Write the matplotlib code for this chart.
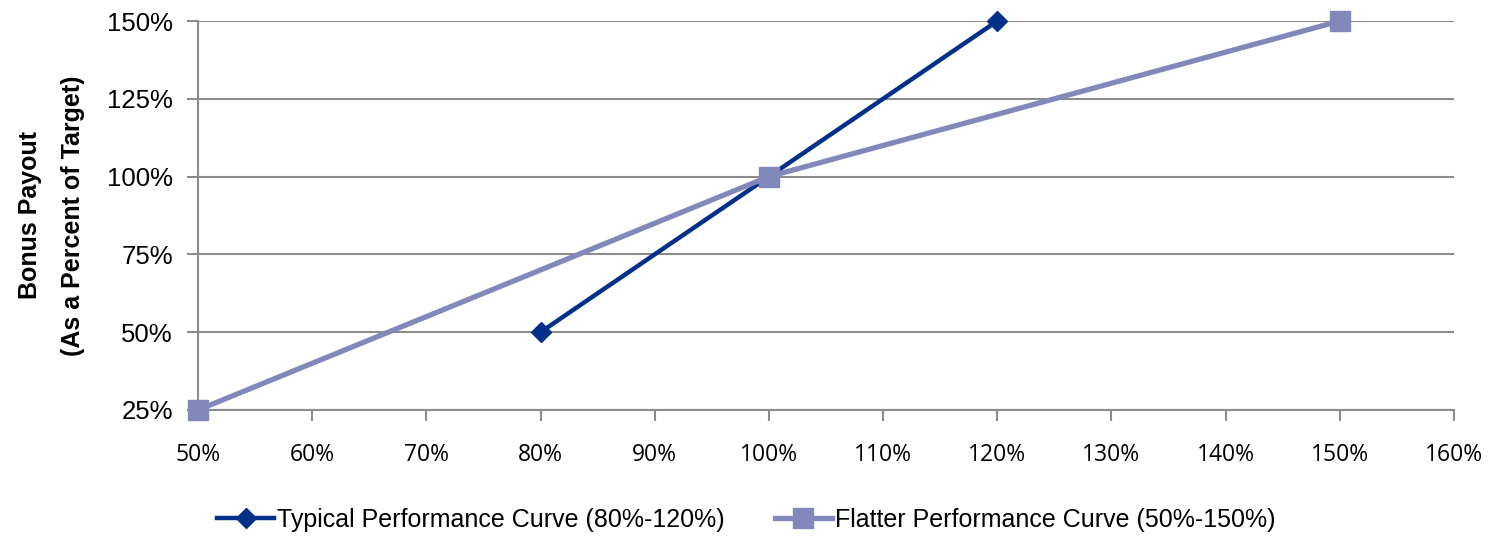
import matplotlib.pyplot as plt
from matplotlib.ticker import FuncFormatter, MultipleLocator

# performance (% of target) vs bonus payout (% of target)
typical_x = [80, 100, 120]
typical_y = [50, 100, 150]
flatter_x = [50, 100, 150]
flatter_y = [25, 100, 150]

labels = ["Typical Performance Curve (80%-120%)", "Flatter Performance Curve (50%-150%)"]
dark = "#00308A"
light = "#8388BB"

fig = plt.figure(figsize=(14.92, 5.36), dpi=100)
ax = fig.add_axes([0.1327, 0.2351, 0.8418, 0.7257])

ax.plot(typical_x, typical_y, color=dark, lw=3.2, marker="D", ms=10,
        label=labels[0], zorder=3, clip_on=False)
ax.plot(flatter_x, flatter_y, color=light, lw=3.8, marker="s", ms=14,
        label=labels[1], zorder=4, clip_on=False)

ax.set_xlim(50, 160)
ax.set_ylim(25, 150)
ax.xaxis.set_major_locator(MultipleLocator(10))
ax.yaxis.set_major_locator(MultipleLocator(25))
pct = FuncFormatter(lambda v, p: f"{v:.0f}%")
ax.xaxis.set_major_formatter(pct)
ax.yaxis.set_major_formatter(pct)

ax.grid(axis="y", color="#8c8c8c", lw=1.5)
ax.set_axisbelow(True)
for s in ["top", "right"]:
    ax.spines[s].set_visible(False)
for s in ["left", "bottom"]:
    ax.spines[s].set_color("#8c8c8c")
    ax.spines[s].set_linewidth(1.5)
ax.tick_params(axis="both", color="#8c8c8c", width=1.5, length=8)
ax.tick_params(axis="x", pad=16)
ax.tick_params(axis="y", pad=10)
for t in ax.get_yticklabels():
    t.set_fontfamily("Liberation Sans")
    t.set_fontsize(18.5)
for t in ax.get_xticklabels():
    t.set_fontfamily("Open Sans")
    t.set_fontsize(16.5)

ax.set_ylabel("Bonus Payout\n(As a Percent of Target)", fontsize=18,
              fontweight="bold", family="Liberation Sans", labelpad=16,
              linespacing=1.97)

fig.legend(loc="center", bbox_to_anchor=(0.5, 0.03), ncol=2, frameon=False,
           prop={"family": "Liberation Sans", "size": 18},
           handlelength=2.3, columnspacing=2.0, handletextpad=0.1)

fig.savefig("out.png", dpi=100)
